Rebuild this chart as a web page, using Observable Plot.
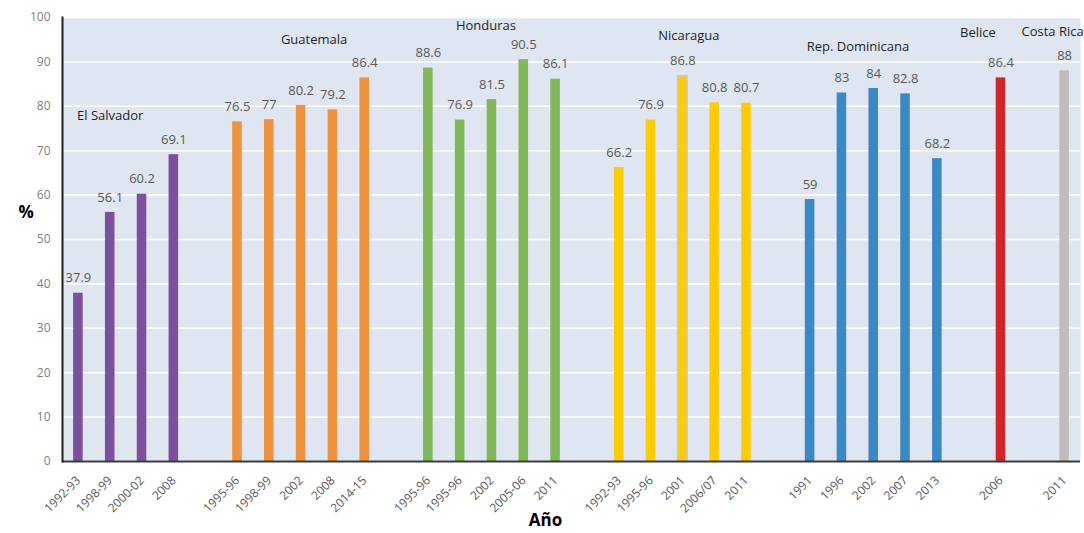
<!DOCTYPE html>
<html>
<head>
<meta charset="utf-8">
<script src="https://cdn.jsdelivr.net/npm/d3@7"></script>
<script src="https://cdn.jsdelivr.net/npm/@observablehq/plot@0.6"></script>
<style>
  body { margin: 0; background: #fff; font-family: "Open Sans", sans-serif; }
</style>
</head>
<body>
<div id="chart"></div>
<script>
// Countries and their bar colours
const countries = ["El Salvador", "Guatemala", "Honduras", "Nicaragua", "Rep. Dominicana", "Belice", "Costa Rica"];
const countryColors = ["#7e4e9f", "#f0913d", "#7fb759", "#ffcb05", "#3a88c4", "#d0262a", "#bdbdbd"];

// Survey years and percentages per country
const elSalvadorYears = ["1992-93", "1998-99", "2000-02", "2008"];
const elSalvadorValues = [37.9, 56.1, 60.2, 69.1];
const guatemalaYears = ["1995-96", "1998-99", "2002", "2008", "2014-15"];
const guatemalaValues = [76.5, 77, 80.2, 79.2, 86.4];
const hondurasYears = ["1995-96", "1995-96", "2002", "2005-06", "2011"];
const hondurasValues = [88.6, 76.9, 81.5, 90.5, 86.1];
const nicaraguaYears = ["1992-93", "1995-96", "2001", "2006/07", "2011"];
const nicaraguaValues = [66.2, 76.9, 86.8, 80.8, 80.7];
const repDominicanaYears = ["1991", "1996", "2002", "2007", "2013"];
const repDominicanaValues = [59, 83, 84, 82.8, 68.2];
const beliceYears = ["2006"];
const beliceValues = [86.4];
const costaRicaYears = ["2011"];
const costaRicaValues = [88];

// Y axis ticks
const yTicks = [0, 10, 20, 30, 40, 50, 60, 70, 80, 90, 100];

// Country name placement: height (in %), bar it sits over, and horizontal nudge
const countryLabelY = [77.9, 95, 98.2, 95.9, 93.3, 96.5, 96.7];
const countryLabelSlot = [1, 2, 2, 2, 1, 0, 0];
const countryLabelShift = [0, 13, -6, 6, 16, -23, -12];

const groups = [
  [elSalvadorYears, elSalvadorValues],
  [guatemalaYears, guatemalaValues],
  [hondurasYears, hondurasValues],
  [nicaraguaYears, nicaraguaValues],
  [repDominicanaYears, repDominicanaValues],
  [beliceYears, beliceValues],
  [costaRicaYears, costaRicaValues]
];

// One band per bar, with an empty band between countries
const rows = [];
const domain = [];
groups.forEach(([years, values], gi) => {
  if (gi > 0) domain.push(`gap${gi}`);
  years.forEach((year, i) => {
    const key = `${countries[gi]}|${i}`;
    domain.push(key);
    rows.push({key, country: countries[gi], year, value: values[i]});
  });
});
const yearOf = new Map(rows.map(d => [d.key, d.year]));

const countryLabels = countries.map((c, i) => ({
  country: c,
  key: `${c}|${countryLabelSlot[i]}`,
  y: countryLabelY[i],
  shift: countryLabelShift[i]
}));

const highlighted = rows.filter(d => d.country === "Nicaragua" && d.year === "2001");

const chart = Plot.plot({
  width: 1084,
  height: 533,
  marginLeft: 62,
  marginRight: 4,
  marginTop: 17,
  marginBottom: 72,
  style: {fontFamily: "Open Sans, sans-serif", background: "#fff", overflow: "visible"},
  x: {type: "band", domain, paddingInner: 0.7, paddingOuter: 0.35, align: 0.5, round: false},
  y: {domain: [0, 100]},
  color: {domain: countries, range: countryColors},
  marks: [
    Plot.frame({fill: "#dfe6f2"}),
    Plot.gridY(yTicks, {stroke: "#ffffff", strokeOpacity: 1, strokeWidth: 1.5}),
    Plot.barY(rows, {x: "key", y: "value", fill: "country"}),
    Plot.barY(highlighted, {x: "key", y: "value", fill: "none", stroke: "#c9c9c9", strokeWidth: 1.5}),
    Plot.text(rows, {x: "key", y: "value", text: d => String(d.value), dy: -15, fill: "#595959", fontSize: 13}),
    ...countryLabels.map(d => Plot.text([d], {x: "key", y: "y", text: "country", dx: d.shift, fill: "#1f1f1f", fontSize: 13})),
    Plot.axisY({ticks: yTicks, tickSize: 0, tickPadding: 12, fontSize: 12, fill: "#7f7f7f", label: null}),
    Plot.axisX({ticks: rows.map(d => d.key), tickFormat: k => yearOf.get(k), tickRotate: -45, tickSize: 0, tickPadding: 17, fontSize: 12, fill: "#595959", label: null}),
    Plot.ruleY([0], {stroke: "#3a3a3a", strokeWidth: 2}),
    Plot.frame({anchor: "left", stroke: "#1f1f1f", strokeWidth: 2}),
    Plot.text(["%"], {text: d => d, frameAnchor: "left", dx: -44, dy: -27, fontWeight: "bold", fontSize: 17, fill: "#000"}),
    Plot.text(["Año"], {text: d => d, frameAnchor: "bottom", dx: -26, dy: 64, fontWeight: "bold", fontSize: 17, fill: "#000"})
  ]
});

document.getElementById("chart").appendChild(chart);
</script>
</body>
</html>
